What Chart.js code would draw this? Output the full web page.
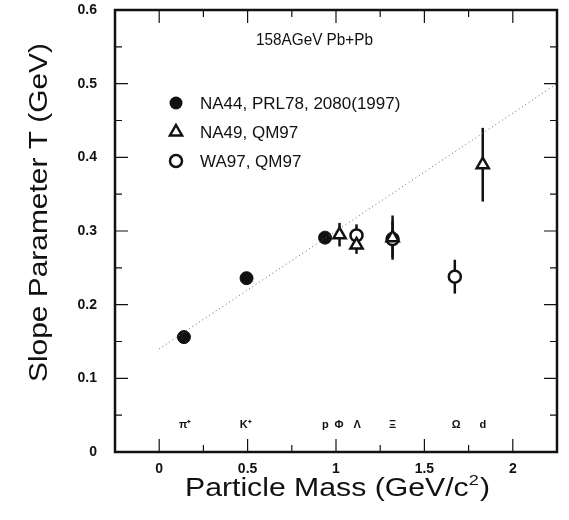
<!DOCTYPE html>
<html>
<head>
<meta charset="utf-8">
<script src="https://cdn.jsdelivr.net/npm/chart.js@4.4.1/dist/chart.umd.min.js"></script>
<style>
  body { margin: 0; background: #fff; }
  #wrap { width: 569px; height: 520px; }
</style>
</head>
<body>
<div id="wrap"><canvas id="myChart" width="569" height="520"></canvas></div>
<script>
// data (mass in GeV/c^2, T in GeV)
const na44Mass = [0.14, 0.494, 0.938]
const na44T = [0.156, 0.236, 0.291]
const na44Err = [0, 0, 0]

const na49Mass = [1.02, 1.116, 1.32, 1.83]
const na49T = [0.295, 0.281, 0.291, 0.39]
const na49Err = [0.016, 0.012, 0.03, 0.05]

const wa97Mass = [1.116, 1.32, 1.672]
const wa97T = [0.294, 0.289, 0.238]
const wa97Err = [0.015, 0.025, 0.023]

const lineMass = [0, 2.25]
const lineT = [0.14, 0.5]

const particleNames = ['π⁺', 'K⁺', 'p', 'Φ', 'Λ', 'Ξ', 'Ω', 'd']
const particleMass = [0.147, 0.49, 0.94, 1.017, 1.12, 1.32, 1.68, 1.83]

const xTicks = [0, 0.5, 1, 1.5, 2]
const yTicks = [0, 0.1, 0.2, 0.3, 0.4, 0.5, 0.6]

const legendNames = ['NA44, PRL78, 2080(1997)', 'NA49, QM97', 'WA97, QM97']

function pts(xs, ys) {
  return xs.map((x, i) => ({ x: x, y: ys[i] }))
}

const FONT = '"Liberation Sans", Arial, Helvetica, sans-serif'

// draw text stretched to a given width
function wideText(ctx, txt, x, y, width) {
  const w = ctx.measureText(txt).width
  ctx.save()
  ctx.translate(x, y)
  ctx.scale(width / w, 1)
  ctx.textAlign = 'left'
  ctx.fillText(txt, 0, 0)
  ctx.restore()
}

// inside ticks, frame, error bars, labels
const decor = {
  id: 'decor',
  beforeDatasetsDraw(chart) {
    const ctx = chart.ctx
    const ys = chart.scales.y
    ctx.save()
    ctx.strokeStyle = '#111'
    ctx.lineWidth = 2.5
    chart.data.datasets.forEach((ds, di) => {
      if (!ds.errors) return
      const meta = chart.getDatasetMeta(di)
      meta.data.forEach((el, i) => {
        const e = ds.errors[i]
        if (!e) return
        const v = ds.data[i].y
        ctx.beginPath()
        ctx.moveTo(el.x, ys.getPixelForValue(v + e))
        ctx.lineTo(el.x, ys.getPixelForValue(v - e))
        ctx.stroke()
      })
    })
    ctx.restore()
  },
  afterDraw(chart) {
    const ctx = chart.ctx
    const a = chart.chartArea
    const xs = chart.scales.x
    const ys = chart.scales.y
    ctx.save()
    ctx.strokeStyle = '#111'
    // ticks
    ctx.lineWidth = 1.2
    for (let v = -0.25; v <= 2.2501; v += 0.25) {
      const px = xs.getPixelForValue(v)
      const major = Math.abs(v * 2 - Math.round(v * 2)) < 1e-6
      const len = major ? 13 : 7
      ctx.beginPath()
      ctx.moveTo(px, a.bottom); ctx.lineTo(px, a.bottom - len)
      ctx.moveTo(px, a.top); ctx.lineTo(px, a.top + len)
      ctx.stroke()
    }
    for (let v = 0; v <= 0.6001; v += 0.05) {
      const py = ys.getPixelForValue(v)
      const major = Math.abs(v * 10 - Math.round(v * 10)) < 1e-6
      const len = major ? 13 : 7
      ctx.beginPath()
      ctx.moveTo(a.left, py); ctx.lineTo(a.left + len, py)
      ctx.moveTo(a.right, py); ctx.lineTo(a.right - len, py)
      ctx.stroke()
    }
    // frame
    ctx.lineWidth = 2.5
    ctx.strokeRect(a.left, a.top, a.right - a.left, a.bottom - a.top)

    // title inside
    ctx.fillStyle = '#111'
    ctx.font = '16px ' + FONT
    ctx.textBaseline = 'alphabetic'
    wideText(ctx, '158AGeV Pb+Pb', 256, 45, 117)

    // legend
    const ly = [103, 132, 161]
    ctx.font = '17px ' + FONT
    ctx.textAlign = 'left'
    legendNames.forEach((n, i) => {
      ctx.fillText(n, 200, ly[i] + 6)
    })
    ctx.lineWidth = 2.5
    ctx.beginPath(); ctx.arc(176, ly[0], 6.5, 0, Math.PI * 2); ctx.fill()
    const r = 7
    ctx.beginPath()
    ctx.moveTo(176, ly[1] - r)
    ctx.lineTo(176 + r * 0.866, ly[1] + r * 0.5)
    ctx.lineTo(176 - r * 0.866, ly[1] + r * 0.5)
    ctx.closePath(); ctx.stroke()
    ctx.beginPath(); ctx.arc(176, ly[2], 6, 0, Math.PI * 2); ctx.stroke()

    // particle names
    ctx.font = 'bold 11px ' + FONT
    ctx.textAlign = 'center'
    ctx.textBaseline = 'middle'
    particleNames.forEach((n, i) => {
      ctx.fillText(n, xs.getPixelForValue(particleMass[i]), 425)
    })

    // x axis title with superscript
    ctx.textBaseline = 'alphabetic'
    ctx.font = '25px ' + FONT
    const left = 185, right = 490
    const w1 = ctx.measureText('Particle Mass (GeV/c').width
    ctx.font = '15px ' + FONT
    const w2 = ctx.measureText('2').width
    ctx.font = '25px ' + FONT
    const w3 = ctx.measureText(')').width
    const k = (right - left) / (w1 + w2 + 1 + w3)
    ctx.save()
    ctx.translate(left, 496)
    ctx.scale(k, 1)
    ctx.textAlign = 'left'
    ctx.fillText('Particle Mass (GeV/c', 0, 0)
    ctx.font = '15px ' + FONT
    ctx.fillText('2', w1, -11)
    ctx.font = '25px ' + FONT
    ctx.fillText(')', w1 + w2 + 1, 0)
    ctx.restore()

    // y axis title
    ctx.font = '26px ' + FONT
    ctx.translate(47, 382)
    ctx.rotate(-Math.PI / 2)
    wideText(ctx, 'Slope Parameter T (GeV)', 0, 0, 339)
    ctx.restore()
  }
}

const data = {
  datasets: [
    {
      label: 'fit',
      type: 'line',
      data: pts(lineMass, lineT),
      borderColor: '#666',
      borderWidth: 1,
      borderDash: [1, 3],
      pointRadius: 0,
      fill: false
    },
    {
      label: legendNames[0],
      data: pts(na44Mass, na44T),
      errors: na44Err,
      pointStyle: 'circle',
      pointRadius: 6.5,
      backgroundColor: '#111',
      borderColor: '#111',
      borderWidth: 1
    },
    {
      label: legendNames[1],
      data: pts(na49Mass, na49T),
      errors: na49Err,
      pointStyle: 'triangle',
      pointRadius: 7,
      backgroundColor: '#fff',
      borderColor: '#111',
      borderWidth: 2.5
    },
    {
      label: legendNames[2],
      data: pts(wa97Mass, wa97T),
      errors: wa97Err,
      pointStyle: 'circle',
      pointRadius: 6,
      backgroundColor: '#fff',
      borderColor: '#111',
      borderWidth: 2.5
    }
  ]
}

const config = {
  type: 'scatter',
  data: data,
  options: {
    responsive: false,
    animation: false,
    layout: { padding: { top: 10, right: 12, left: 0, bottom: 0 } },
    plugins: { legend: { display: false }, tooltip: { enabled: false } },
    scales: {
      x: {
        type: 'linear',
        min: -0.25,
        max: 2.25,
        afterBuildTicks: s => { s.ticks = xTicks.map(v => ({ value: v })) },
        afterFit: s => { s.height = 68; s.paddingLeft = 0; s.paddingRight = 0 },
        grid: { display: false, drawTicks: false },
        border: { display: false },
        ticks: {
          color: '#111',
          padding: 9,
          font: { family: FONT, size: 14, weight: 'bold' },
          callback: v => String(v)
        }
      },
      y: {
        type: 'linear',
        min: 0,
        max: 0.6,
        afterBuildTicks: s => { s.ticks = yTicks.map(v => ({ value: v })) },
        afterFit: s => { s.width = 115; s.paddingTop = 0; s.paddingBottom = 0 },
        grid: { display: false, drawTicks: false },
        border: { display: false },
        ticks: {
          color: '#111',
          padding: 18,
          font: { family: FONT, size: 14, weight: 'bold' },
          callback: v => String(v)
        }
      }
    }
  },
  plugins: [decor]
}

const myChart = new Chart(document.getElementById('myChart'), config)
</script>
</body>
</html>
